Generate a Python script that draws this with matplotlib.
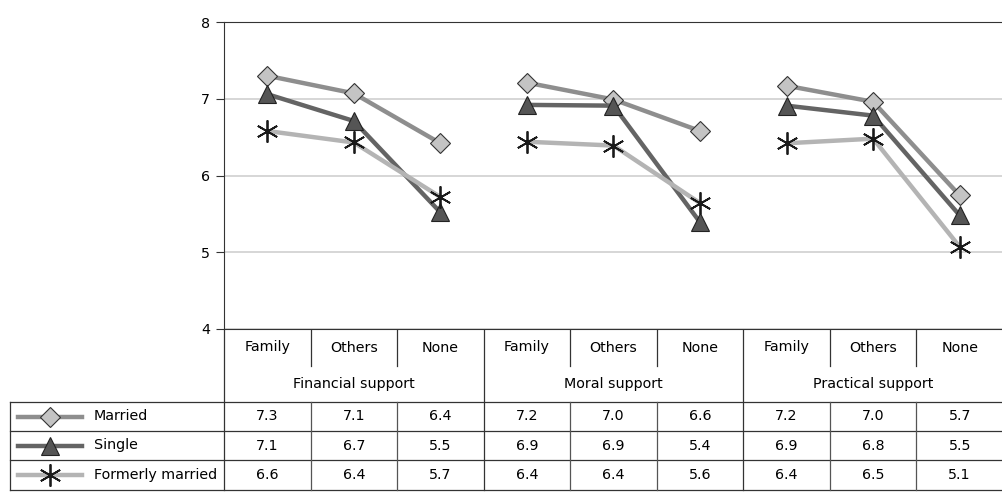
"""Support scores by marital status, line chart with data table below."""

import matplotlib

matplotlib.use("Agg")
import matplotlib.pyplot as plt
from matplotlib.lines import Line2D


GROUPS = ["Financial support", "Moral support", "Practical support"]
SOURCES = ["Family", "Others", "None"]
SERIES = ["Married", "Single", "Formerly married"]

married = [7.30, 7.07, 6.42, 7.21, 6.99, 6.58, 7.17, 6.96, 5.74]
single = [7.06, 6.71, 5.52, 6.92, 6.91, 5.39, 6.91, 6.78, 5.48]
formerly = [6.58, 6.43, 5.72, 6.44, 6.39, 5.64, 6.42, 6.48, 5.07]

LINE_COLORS = {"Married": "#8e8e8e", "Single": "#646464", "Formerly married": "#b4b4b4"}
MARKERS = {
    "Married": dict(marker="D", ms=10, mfc="#c4c4c4", mec="#333333", mew=0.8),
    "Single": dict(marker="^", ms=13, mfc="#555555", mec="#222222", mew=0.8),
    "Formerly married": dict(marker=(6, 2, 0), ms=16, mfc="none", mec="#1a1a1a", mew=1.3),
}

W, H = 1003, 495
LEFT, RIGHT, TOP, BOTTOM = 224, 1003, 22, 329
FS = 10.3


def px(x, y):
    return x / W, 1 - y / H


def main():
    fig = plt.figure(figsize=(W / 100, H / 100), dpi=100)

    # chart area
    x0, y0 = px(LEFT, BOTTOM)
    ax = fig.add_axes([x0, y0, (RIGHT - LEFT) / W, (BOTTOM - TOP) / H])
    ncol = len(GROUPS) * len(SOURCES)
    values = {"Married": married, "Single": single, "Formerly married": formerly}
    for name in SERIES:
        vals = values[name]
        for g in range(len(GROUPS)):
            xs = list(range(g * 3, g * 3 + 3))
            ax.plot(xs, vals[g * 3:g * 3 + 3], lw=3.2, color=LINE_COLORS[name],
                    solid_capstyle="butt", zorder=3, **MARKERS[name])
    ax.set_xlim(-0.5, ncol - 0.5)
    ax.set_ylim(4, 8)
    ax.set_yticks([4, 5, 6, 7, 8])
    ax.set_xticks([])
    ax.yaxis.grid(True, color="#d0d0d0", lw=1.2)
    ax.set_axisbelow(True)
    ax.tick_params(axis="y", length=6, width=0.8, labelsize=FS, pad=4, color="#333333")
    ax.spines["right"].set_visible(False)
    for side in ["left", "top", "bottom"]:
        ax.spines[side].set_color("#333333")

    # table area drawn in pixel coordinates
    tab = fig.add_axes([0, 0, 1, 1], zorder=-1)
    tab.set_xlim(0, W)
    tab.set_ylim(H, 0)
    tab.axis("off")
    col_w = (RIGHT - LEFT) / ncol
    line_kw = dict(color="#333333", lw=0.9)
    row_cat, row_grp = (BOTTOM, 366), (366, 402)
    rows = [402, 431, 460, 490]

    tab.plot([LEFT, LEFT], [BOTTOM, rows[-1]], **line_kw)
    tab.plot([10, 10], [rows[0], rows[-1]], **line_kw)
    for y in rows:
        tab.plot([10, W], [y, y], **line_kw)
    for c in range(1, ncol):
        x = LEFT + c * col_w
        if c % 3 == 0:
            tab.plot([x, x], [BOTTOM, rows[-1]], **line_kw)
        else:
            tab.plot([x, x], [BOTTOM, row_cat[1]], **line_kw)
            tab.plot([x, x], [rows[0], rows[-1]], color="#555555", lw=0.9)

    for c in range(ncol):
        xc = LEFT + (c + 0.5) * col_w
        tab.text(xc, sum(row_cat) / 2, SOURCES[c % 3], ha="center", va="center", fontsize=FS)
    for g, name in enumerate(GROUPS):
        xc = LEFT + (g * 3 + 1.5) * col_w
        tab.text(xc, sum(row_grp) / 2, name, ha="center", va="center", fontsize=FS)

    for r, name in enumerate(SERIES):
        yc = (rows[r] + rows[r + 1]) / 2
        vals = values[name]
        for c in range(ncol):
            xc = LEFT + (c + 0.5) * col_w
            tab.text(xc, yc, f"{vals[c]:.1f}", ha="center", va="center", fontsize=FS)
        tab.add_line(Line2D([18, 82], [yc, yc], lw=3.2, color=LINE_COLORS[name]))
        tab.add_line(Line2D([50], [yc], lw=0, **MARKERS[name]))
        tab.text(94, yc, name, ha="left", va="center", fontsize=FS)

    fig.savefig("out.png", dpi=100)


if __name__ == "__main__":
    main()
